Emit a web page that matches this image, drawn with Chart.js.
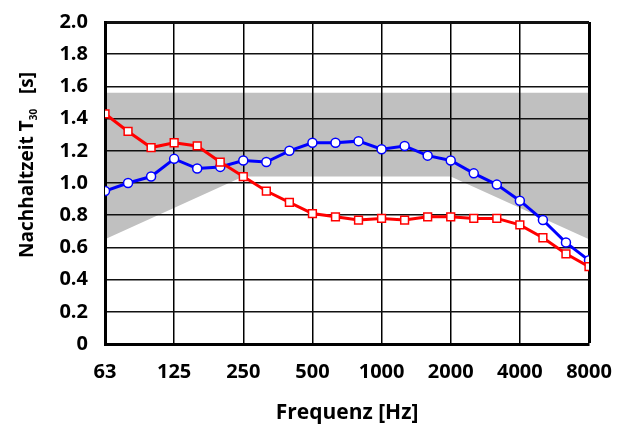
<!DOCTYPE html>
<html>
<head>
<meta charset="utf-8">
<script src="https://cdn.jsdelivr.net/npm/chart.js@4.4.1/dist/chart.umd.min.js"></script>
<style>
  html, body { margin: 0; padding: 0; background: #fff; }
  #wrap { width: 628px; height: 428px; }
</style>
</head>
<body>
<div id="wrap"><canvas id="c" width="628" height="428"></canvas></div>
<script>
// third-octave bands, only octave labels shown
const freqs = ["63", "80", "100", "125", "160", "200", "250", "315", "400", "500", "630",
  "800", "1000", "1250", "1600", "2000", "2500", "3150", "4000", "5000", "6300", "8000"];
const tickLabels = ["63", "125", "250", "500", "1000", "2000", "4000", "8000"];

const redT30 = [1.43, 1.32, 1.22, 1.25, 1.23, 1.13, 1.04, 0.95, 0.88, 0.81, 0.79,
  0.77, 0.78, 0.77, 0.79, 0.79, 0.78, 0.78, 0.74, 0.66, 0.56, 0.48];
const blueT30 = [0.95, 1.0, 1.04, 1.15, 1.09, 1.1, 1.14, 1.13, 1.2, 1.25, 1.25,
  1.26, 1.21, 1.23, 1.17, 1.14, 1.06, 0.99, 0.89, 0.77, 0.63, 0.52];

// tolerance band corners (null = straight line between corners)
const bandUpper = [1.56, null, null, null, null, null, null, null, null, null, null,
  null, null, null, null, null, null, null, null, null, null, 1.56];
const bandLower = [0.65, null, null, null, null, null, 1.04, null, null, null, null,
  null, null, null, null, 1.04, null, null, null, null, null, 0.65];

const FONT = "'Open Sans', 'Noto Sans', sans-serif";

// y title with subscript, drawn by hand
const yTitle = {
  id: "yTitle",
  afterDraw(chart) {
    const { ctx } = chart;
    ctx.save();
    ctx.translate(28, 258);
    ctx.rotate(-Math.PI / 2);
    ctx.fillStyle = "#000";
    ctx.textBaseline = "middle";
    ctx.textAlign = "left";
    ctx.font = `bold 19px ${FONT}`;
    const a = "Nachhaltzeit T";
    ctx.fillText(a, 0, 0);
    let x = ctx.measureText(a).width;
    ctx.font = `bold 10px ${FONT}`;
    ctx.fillText("30", x, 6);
    x += ctx.measureText("30").width;
    ctx.font = `bold 19px ${FONT}`;
    ctx.fillText("   [s]", x, 0);
    ctx.restore();
  },
};

const isLabel = (i) => tickLabels.includes(freqs[i]);

new Chart(document.getElementById("c"), {
  type: "line",
  data: {
    labels: freqs,
    datasets: [
      {
        data: bandUpper,
        borderWidth: 0,
        pointRadius: 0,
        spanGaps: true,
        backgroundColor: "#c0c0c0",
        fill: "+1",
      },
      {
        data: bandLower,
        borderWidth: 0,
        pointRadius: 0,
        spanGaps: true,
        fill: false,
      },
      {
        data: redT30,
        borderColor: "#ff0000",
        borderWidth: 3,
        pointStyle: "rect",
        pointRadius: 5.5,
        pointBorderWidth: 1.5,
        pointBackgroundColor: "#fff",
        pointBorderColor: "#ff0000",
        fill: false,
        clip: 0,
      },
      {
        data: blueT30,
        borderColor: "#0000ff",
        borderWidth: 3,
        pointStyle: "circle",
        pointRadius: 4.5,
        pointBorderWidth: 1.5,
        pointBackgroundColor: "#fff",
        pointBorderColor: "#0000ff",
        fill: false,
        clip: 0,
      },
    ],
  },
  options: {
    responsive: false,
    animation: false,
    devicePixelRatio: 1,
    layout: { padding: { left: 0, top: 22, right: 39, bottom: 0 } },
    plugins: {
      legend: { display: false },
      tooltip: { enabled: false },
      filler: { drawTime: "beforeDraw" },
    },
    scales: {
      x: {
        type: "category",
        offset: false,
        afterFit: (s) => { s.height = 84; },
        border: { display: true, width: 3, color: "#000" },
        grid: {
          drawTicks: false,
          color: (c) => (isLabel(c.index) ? "#000" : "rgba(0,0,0,0)"),
          lineWidth: (c) => (c.index === freqs.length - 1 ? 3 : 1.5),
        },
        ticks: {
          autoSkip: false,
          maxRotation: 0,
          padding: 16,
          color: "#000",
          font: { family: FONT, size: 20, weight: "bold" },
          callback: (v, i) => (isLabel(i) ? freqs[i] : ""),
        },
        title: {
          display: true,
          text: "Frequenz [Hz]",
          color: "#000",
          font: { family: FONT, size: 21, weight: "bold" },
          padding: { top: 0, bottom: 2 },
        },
      },
      y: {
        min: 0,
        max: 2,
        afterFit: (s) => {
          s.width = 105;
          s.paddingTop = 0;
          s.paddingBottom = 0;
        },
        border: { display: true, width: 3, color: "#000" },
        grid: {
          drawTicks: false,
          color: "#111",
          lineWidth: (c) => (c.tick && c.tick.value === 2 ? 3 : 1.5),
        },
        ticks: {
          stepSize: 0.2,
          padding: 17,
          color: "#000",
          font: { family: FONT, size: 20, weight: "bold" },
          callback: (v) => (v === 0 ? "0" : v.toFixed(1)),
        },
      },
    },
  },
  plugins: [yTitle],
});
</script>
</body>
</html>
